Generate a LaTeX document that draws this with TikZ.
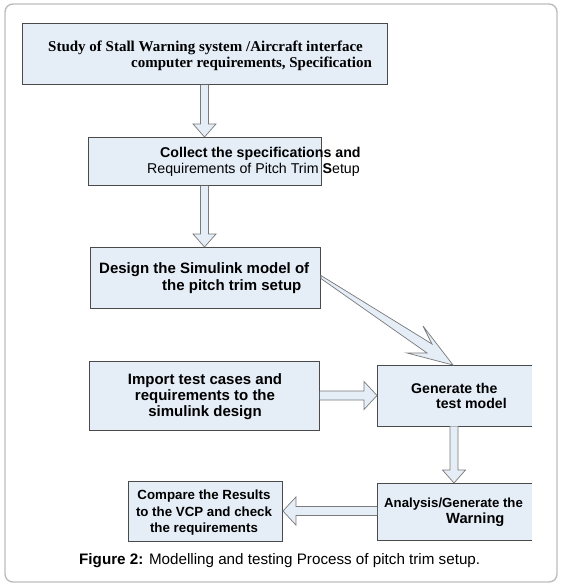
\documentclass[tikz,border=0pt]{standalone}
\usepackage{fontspec}
\setmainfont{Liberation Serif}
\newfontfamily\arial{Liberation Sans}
\usetikzlibrary{calc}
\definecolor{boxfill}{HTML}{E5EDF7}
\definecolor{boxline}{HTML}{4A4A4A}
\definecolor{arrline}{HTML}{7A7A7A}
\definecolor{framecol}{HTML}{BDBDBD}
\tikzset{
  box/.style={fill=boxfill, draw=boxline, line width=0.9pt, inner sep=0pt, anchor=north west},
  openbox/.style={fill=boxfill, inner sep=0pt, anchor=north west},
  txt/.style={inner sep=0pt, anchor=base west, text=black},
  ctxt/.style={inner sep=0pt, anchor=base, text=black},
  blk/.style={fill=boxfill, draw=arrline, line width=0.7pt, line join=miter},
}
\newcommand\blockdown[2]{%
  \draw[blk] let \p1=(#1), \p2=(#2) in
    (\x1-4pt,\y1) -- (\x1-4pt,\y2+13pt) -- (\x1-11.5pt,\y2+13pt) -- (\x2,\y2)
    -- (\x1+11.5pt,\y2+13pt) -- (\x1+4pt,\y2+13pt) -- (\x1+4pt,\y1);}
\newcommand\blockhor[3]{% #3 = +1 right, -1 left
  \draw[blk] let \p1=(#1), \p2=(#2) in
    (\x1,\y1+4.5pt) -- (\x2-#3*13pt,\y1+4.5pt) -- (\x2-#3*13pt,\y1+14pt) -- (\x2,\y2)
    -- (\x2-#3*13pt,\y1-14pt) -- (\x2-#3*13pt,\y1-4.5pt) -- (\x1,\y1-4.5pt);}
\begin{document}
\begin{tikzpicture}[x=1pt,y=-1pt]
\useasboundingbox (0,0) rectangle (564,585);
\fill[white] (0,0) rectangle (564,585);
\draw[framecol, line width=1.4pt, rounded corners=8pt] (5,4) rectangle (557,582);

% boxes
\node[box, minimum width=365, minimum height=61] (b1) at (22,23) {};
\node[box, minimum width=233, minimum height=48] (b2) at (88,137) {};
\node[box, minimum width=230, minimum height=61] (b3) at (90,247) {};
\node[box, minimum width=230, minimum height=69] (b4) at (89,361) {};
\node[openbox, minimum width=155, minimum height=61] (b5) at (377,365) {};
\draw[boxline, line width=0.9pt] (b5.north east) -- (b5.north west) -- (b5.south west) -- (b5.south east);
\node[openbox, minimum width=155, minimum height=57] (b6) at (377,483) {};
\draw[boxline, line width=0.9pt] (b6.north east) -- (b6.north west) -- (b6.south west) -- (b6.south east);
\node[box, minimum width=154, minimum height=60] (b7) at (128,481) {};

% texts
\node[txt, font=\bfseries\fontsize{15}{16}\selectfont] (t1a) at (48,52) {Study of Stall Warning system /Aircraft interface};
\node[txt, font=\bfseries\fontsize{15}{16}\selectfont] (t1b) at (131,68) {computer requirements, Specification};
\node[txt, font=\arial\bfseries\fontsize{14.2}{16}\selectfont] (t2a) at (160,158) {Collect the specifications and};
\node[txt, font=\arial\fontsize{14.2}{16}\selectfont] (t2b) at (147,174) {Requirements of Pitch Trim \textbf{S}etup};
\node[txt, font=\arial\bfseries\fontsize{15}{16}\selectfont] (t3a) at (99,273) {Design the Simulink model of};
\node[txt, font=\arial\bfseries\fontsize{15}{16}\selectfont] (t3b) at (162,290) {the pitch trim setup};
\node[ctxt, font=\arial\bfseries\fontsize{15}{16}\selectfont] (t4a) at (205,384) {Import test cases and};
\node[ctxt, font=\arial\bfseries\fontsize{15}{16}\selectfont] (t4b) at (205,400) {requirements to the};
\node[ctxt, font=\arial\bfseries\fontsize{15}{16}\selectfont] (t4c) at (205,416) {simulink design};
\node[txt, font=\arial\bfseries\fontsize{14.1}{16}\selectfont] (t5a) at (411,393) {Generate the};
\node[txt, font=\arial\bfseries\fontsize{14.1}{16}\selectfont] (t5b) at (436,408) {test model};
\node[txt, font=\arial\bfseries\fontsize{13.2}{16}\selectfont] (t6a) at (384,507) {Analysis/Generate the};
\node[txt, font=\arial\bfseries\fontsize{14.7}{16}\selectfont] (t6b) at (446,523) {Warning};
\node[ctxt, font=\arial\bfseries\fontsize{13.3}{16}\selectfont] (t7a) at (204,499) {Compare the Results};
\node[ctxt, font=\arial\bfseries\fontsize{13.3}{16}\selectfont] (t7b) at (204,516) {to the VCP and check};
\node[ctxt, font=\arial\bfseries\fontsize{13.3}{16}\selectfont] (t7c) at (204,532) {the requirements};
\node[txt, font=\arial\fontsize{15.2}{16}\selectfont] (cap) at (79,564) {\textbf{Figure 2:} Modelling and testing Process of pitch trim setup.};

% arrow endpoints
\coordinate (a1s) at ([xshift=182.5pt]b1.south west);
\coordinate (a1t) at ([xshift=116.5pt]b2.north west);
\coordinate (a2s) at ([xshift=116.5pt]b2.south west);
\coordinate (a2t) at ([xshift=114.5pt]b3.north west);
\coordinate (a3s) at ([yshift=-34.5pt]b4.north east);
\coordinate (a3t) at ([yshift=-30.5pt]b5.north west);
\coordinate (a4s) at ([xshift=77pt]b5.south west);
\coordinate (a4t) at ([xshift=77pt]b6.north west);
\coordinate (a5s) at ([yshift=-28pt]b6.north west);
\coordinate (a5t) at ([yshift=-30pt]b7.north east);

\blockdown{a1s}{a1t}
\blockdown{a2s}{a2t}
\blockhor{a3s}{a3t}{1}
\blockdown{a4s}{a4t}
\blockhor{a5s}{a5t}{-1}

% diagonal arrow from b3 to b5
\coordinate (d0) at ([yshift=-30pt]b3.north east);
\coordinate (d1) at ([xshift=76pt]b5.north west);
\draw[blk] ($(d0)+(0,-1.5)$) -- (432,344) -- (423,326) -- (d1) -- (407,353) -- (427,353) -- ($(d0)+(0,1.5)$) -- cycle;
\end{tikzpicture}
\end{document}
